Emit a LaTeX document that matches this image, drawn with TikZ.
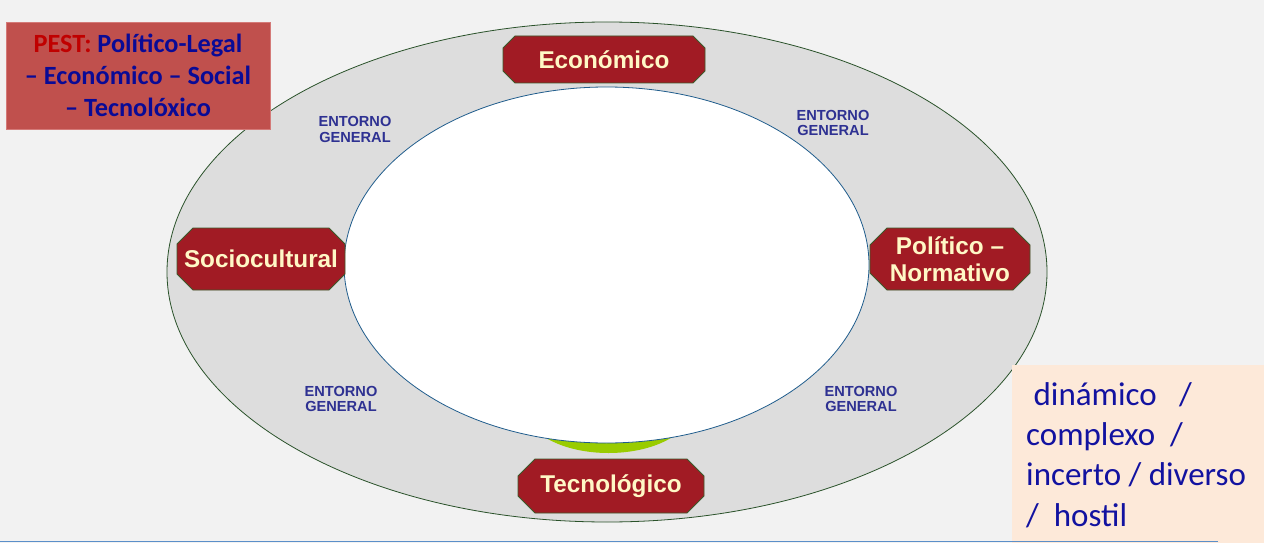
\documentclass[tikz,border=0pt]{standalone}
\usepackage{fontspec}
\setmainfont{Liberation Sans}
\newfontfamily\calib{Carlito}
\newfontfamily\arialf{Liberation Sans}
\usetikzlibrary{shapes.geometric}
\definecolor{bgc}{HTML}{F2F2F2}
\definecolor{ringfill}{HTML}{DDDDDD}
\definecolor{ringline}{HTML}{2A522A}
\definecolor{innerline}{HTML}{1F5C8C}
\definecolor{greenc}{HTML}{99CC00}
\definecolor{octfill}{HTML}{A11B24}
\definecolor{octline}{HTML}{3B5A2A}
\definecolor{octtext}{HTML}{FFF8C6}
\definecolor{entc}{HTML}{2E3192}
\definecolor{pestfill}{HTML}{C0504D}
\definecolor{pestline}{HTML}{D47A78}
\definecolor{pestred}{HTML}{C00000}
\definecolor{pestblue}{HTML}{0A0A96}
\definecolor{peach}{HTML}{FDE9D9}
\definecolor{peachtext}{HTML}{1212A0}
\definecolor{bottomline}{HTML}{5B8FC9}
\tikzset{
  octshape/.style={fill=octfill, draw=octline, line width=0.8pt},
  octlabel/.style={text=octtext, align=center, inner sep=0pt,
    font=\arialf\bfseries\fontsize{24.3}{27}\selectfont},
  entorno/.style={text=entc, align=center, inner sep=0pt, font=\arialf\bfseries\fontsize{14.6}{15.5}\selectfont}
}
% cx cy w h chamfer
\newcommand\octpoly[5]{%
  \filldraw[octshape] ({#1-#3/2+#5},{#2-#4/2}) -- ({#1+#3/2-#5},{#2-#4/2}) -- ({#1+#3/2},{#2-#4/2+#5})
   -- ({#1+#3/2},{#2+#4/2-#5}) -- ({#1+#3/2-#5},{#2+#4/2}) -- ({#1-#3/2+#5},{#2+#4/2})
   -- ({#1-#3/2},{#2+#4/2-#5}) -- ({#1-#3/2},{#2-#4/2+#5}) -- cycle;}
\begin{document}
\begin{tikzpicture}[x=1pt,y=-1pt]
\useasboundingbox (0,0) rectangle (1264,543);
\fill[bgc] (0,0) rectangle (1264,543);
\node[ellipse, fill=ringfill, draw=ringline, line width=0.8pt, minimum width=880, minimum height=500, inner sep=0pt] (outer) at (607,272) {};
\node[ellipse, fill=greenc, minimum width=164, minimum height=86, inner sep=0pt] (green) at (608.5,410) {};
\node[ellipse, fill=white, draw=innerline, line width=0.8pt, minimum width=525, minimum height=356, inner sep=0pt] (inner) at (606.5,265) {};
\octpoly{604}{59.5}{202}{47}{12}
\node[octlabel] (eco) at (604,59.5) {Económico};
\octpoly{261}{259}{168}{62}{16}
\node[octlabel] (soc) at (261,259) {Sociocultural};
\octpoly{950}{259}{160}{62}{17}
\node[octlabel] (pol) at (950,259) {Político –\\Normativo};
\octpoly{611}{486}{186}{54}{17}
\node[octlabel] (tec) at (611,486.5) {Tecnológico};
\node[entorno] (e1) at (355,129.5) {ENTORNO\\GENERAL};
\node[entorno] (e2) at (833,123) {ENTORNO\\GENERAL};
\node[entorno] (e3) at (341,399) {ENTORNO\\GENERAL};
\node[entorno] (e4) at (861,399) {ENTORNO\\GENERAL};
\node[fill=pestfill, draw=pestline, line width=0.8pt, minimum width=264, minimum height=107, inner sep=0pt, align=center,
  text=pestblue, font=\calib\bfseries\fontsize{26.3}{32}\selectfont] (pest) at (138,75.5)
  {\textcolor{pestred}{PEST:} Político-Legal\\– Económico – Social\\– Tecnolóxico};
\fill[peach] (1012,365) rectangle (1264,543);
\node[anchor=north west, inner sep=0pt, align=left, text=peachtext, font=\calib\fontsize{33}{40.3}\selectfont] (adj) at (1026,382)
  {\ dinámico\ \ \ /\\complexo\ \ /\\incerto / diverso\\/\ \ hostil};
\draw[bottomline, line width=1.8pt] (0,541.5) -- (1218,541.5);
\end{tikzpicture}
\end{document}
